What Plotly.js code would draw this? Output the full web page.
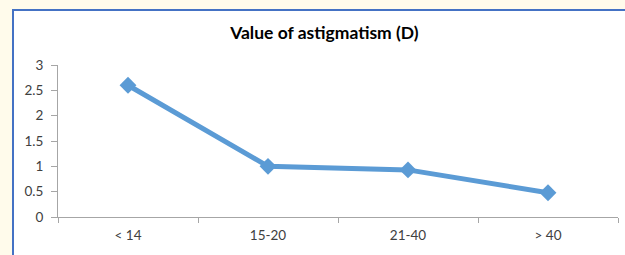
<!DOCTYPE html>
<html>
<head>
<meta charset="utf-8">
<script src="https://cdn.plot.ly/plotly-3.0.1.min.js"></script>
<style>
html,body{margin:0;padding:0;width:625px;height:255px;overflow:hidden;background:#fffbeb;}
#frame{position:absolute;left:12px;top:9px;width:613px;height:246px;border-left:2px solid #4472c4;border-top:2px solid #4472c4;background:#fff;}
#chart{position:absolute;left:0;top:0;width:611px;height:244px;}
</style>
</head>
<body>
<div id="frame"><div id="chart"></div></div>
<script>
var categories = ["< 14", "15-20", "21-40", "> 40"];
var values = [2.6, 1.0, 0.93, 0.48];
var yTicks = [0, 0.5, 1, 1.5, 2, 2.5, 3];
var yTickLabels = ["0", "0.5", "1", "1.5", "2", "2.5", "3"];

var trace = {
  x: categories,
  y: values,
  type: "scatter",
  mode: "lines+markers",
  line: {color: "#5b9bd5", width: 5},
  marker: {symbol: "diamond", size: 13, color: "#5b9bd5"},
  hoverinfo: "x+y"
};

var layout = {
  width: 611, height: 244,
  margin: {l: 44, r: 7, t: 54, b: 38},
  paper_bgcolor: "#ffffff",
  plot_bgcolor: "#ffffff",
  showlegend: false,
  font: {family: "Lato, 'Open Sans', sans-serif", color: "#404040", size: 13.5},
  title: {
    text: "<b>Value of astigmatism (D)</b>",
    font: {family: "Lato, 'Open Sans', sans-serif", size: 17.5, color: "#000000"},
    xref: "container", x: 0.508, xanchor: "center",
    yref: "container", y: 0.91, yanchor: "middle"
  },
  xaxis: {
    type: "category",
    range: [-0.5, 3.5],
    showgrid: false,
    zeroline: false,
    showline: true, linecolor: "#a6a6a6", linewidth: 1,
    ticks: "outside", tickson: "boundaries", ticklen: 5, tickcolor: "#a6a6a6",
    ticklabelstandoff: 6,
    tickfont: {size: 13.5, color: "#404040"},
    fixedrange: true
  },
  yaxis: {
    range: [0, 3],
    tickvals: yTicks, ticktext: yTickLabels,
    showgrid: false,
    zeroline: false,
    showline: true, linecolor: "#a6a6a6", linewidth: 1,
    ticks: "outside", ticklen: 6, tickcolor: "#a6a6a6",
    ticklabelstandoff: 5,
    tickfont: {size: 13.5, color: "#404040"},
    fixedrange: true
  }
};

Plotly.newPlot("chart", [trace], layout, {displayModeBar: false, staticPlot: true});
</script>
</body>
</html>
